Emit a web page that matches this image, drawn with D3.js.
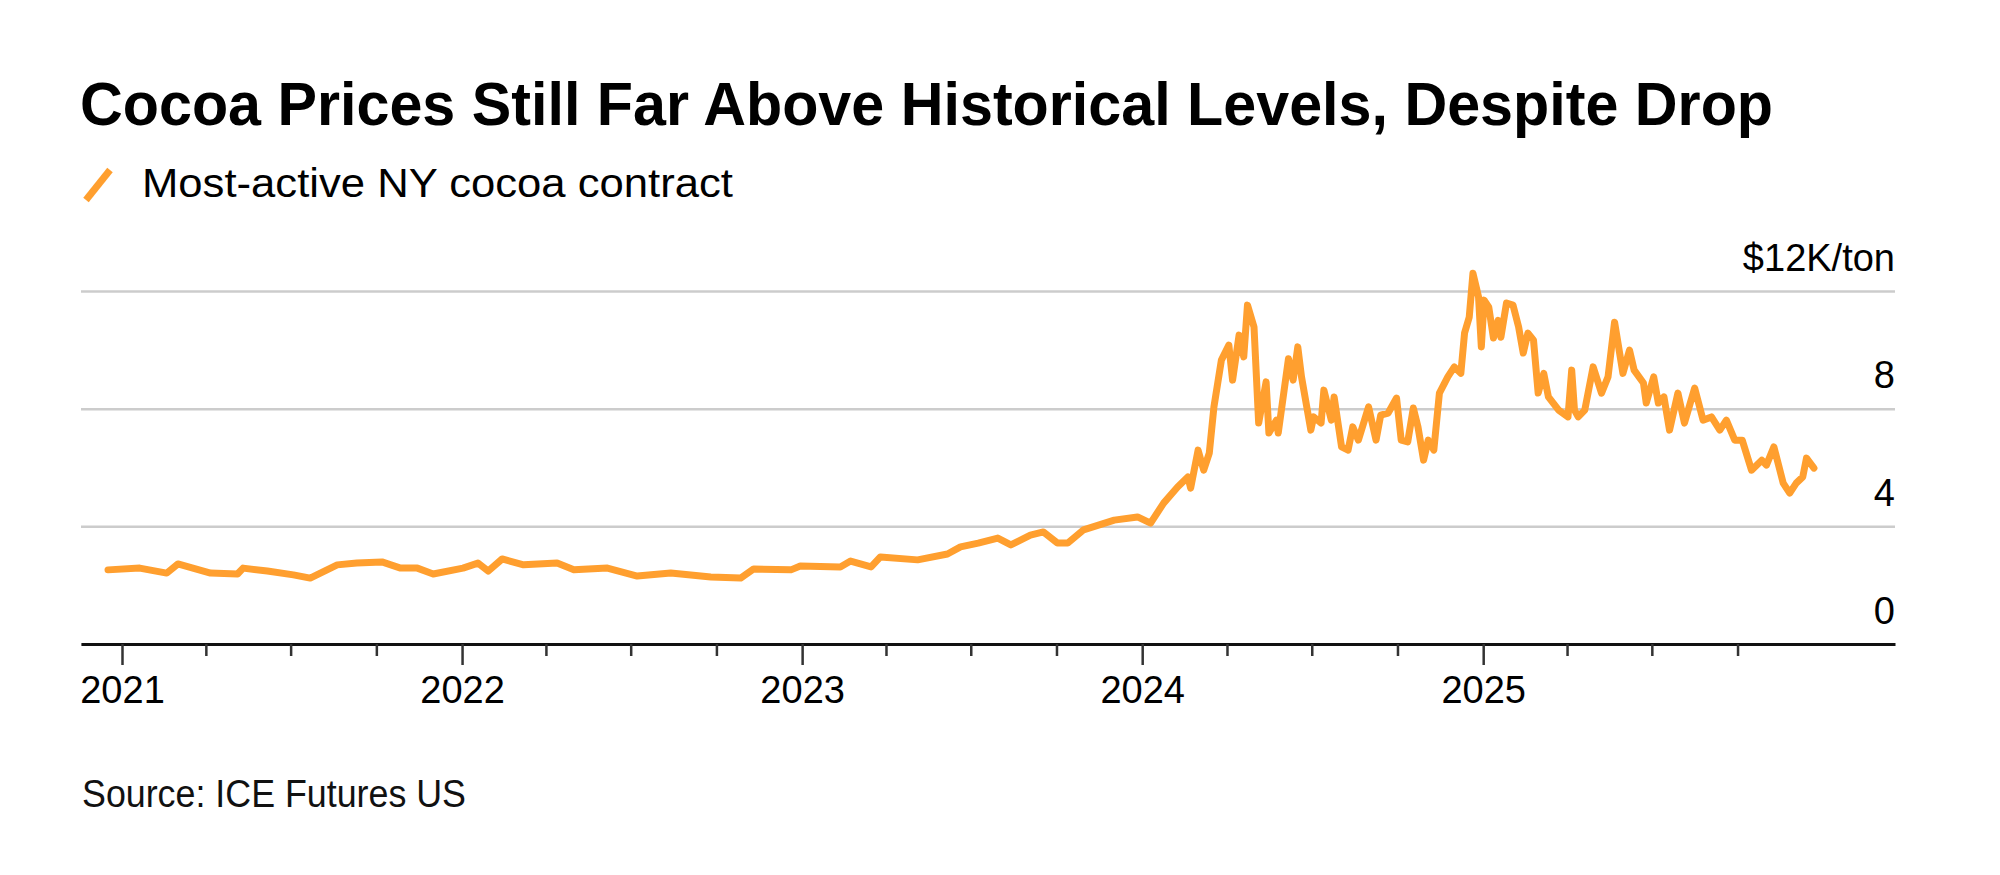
<!DOCTYPE html>
<html>
<head>
<meta charset="utf-8">
<script src="https://cdn.jsdelivr.net/npm/d3@7"></script>
<style>
  body { margin: 0; background: #fff; }
  svg { display: block; font-family: "Liberation Sans", Arial, Helvetica, sans-serif; }
</style>
</head>
<body>
<div id="chart"></div>
<script>
// Most-active NY cocoa contract, $K per ton
const dates = [
  "2020-12-17", "2021-01-20", "2021-02-18", "2021-03-02", "2021-04-06", "2021-05-05", "2021-05-11", "2021-06-06",
  "2021-07-04", "2021-07-22", "2021-08-20", "2021-09-10", "2021-10-07", "2021-10-27", "2021-11-14", "2021-12-01",
  "2022-01-02", "2022-01-18", "2022-01-29", "2022-02-13", "2022-03-08", "2022-04-13", "2022-05-01", "2022-06-06",
  "2022-07-08", "2022-08-13", "2022-09-25", "2022-10-27", "2022-11-10", "2022-12-20", "2022-12-30", "2023-02-11",
  "2023-02-22", "2023-03-16", "2023-03-26", "2023-05-05", "2023-06-06", "2023-06-20", "2023-07-09", "2023-07-30",
  "2023-08-13", "2023-09-03", "2023-09-17", "2023-10-02", "2023-10-13", "2023-10-30", "2023-12-02", "2023-12-27",
  "2024-01-10", "2024-01-24", "2024-02-08", "2024-02-19", "2024-02-22", "2024-03-01", "2024-03-07", "2024-03-13",
  "2024-03-18", "2024-03-26", "2024-04-03", "2024-04-07", "2024-04-14", "2024-04-19", "2024-04-23", "2024-04-30",
  "2024-05-05", "2024-05-13", "2024-05-16", "2024-05-24", "2024-05-26", "2024-06-06", "2024-06-11", "2024-06-16",
  "2024-06-20", "2024-06-30", "2024-07-03", "2024-07-11", "2024-07-14", "2024-07-22", "2024-07-25", "2024-08-02",
  "2024-08-09", "2024-08-14", "2024-08-20", "2024-08-31", "2024-09-08", "2024-09-13", "2024-09-21", "2024-09-30",
  "2024-10-05", "2024-10-12", "2024-10-18", "2024-10-23", "2024-10-29", "2024-11-03", "2024-11-09", "2024-11-15",
  "2024-11-24", "2024-12-01", "2024-12-08", "2024-12-12", "2024-12-17", "2024-12-21", "2024-12-27", "2024-12-30",
  "2025-01-02", "2025-01-07", "2025-01-12", "2025-01-17", "2025-01-20", "2025-01-26", "2025-02-02", "2025-02-08",
  "2025-02-13", "2025-02-18", "2025-02-24", "2025-03-01", "2025-03-07", "2025-03-12", "2025-03-23", "2025-04-02",
  "2025-04-06", "2025-04-09", "2025-04-13", "2025-04-20", "2025-04-29", "2025-05-08", "2025-05-15", "2025-05-22",
  "2025-05-31", "2025-06-07", "2025-06-12", "2025-06-22", "2025-06-25", "2025-07-03", "2025-07-08", "2025-07-14",
  "2025-07-20", "2025-07-29", "2025-08-05", "2025-08-16", "2025-08-25", "2025-09-03", "2025-09-12", "2025-09-19",
  "2025-09-28", "2025-10-06", "2025-10-16", "2025-10-27", "2025-11-01", "2025-11-09", "2025-11-19", "2025-11-26",
  "2025-12-03", "2025-12-10", "2025-12-14", "2025-12-22"
];
const prices = [
  2.52, 2.58, 2.41, 2.72, 2.41, 2.38, 2.58, 2.48,
  2.35, 2.24, 2.69, 2.75, 2.79, 2.58, 2.58, 2.38,
  2.58, 2.75, 2.48, 2.89, 2.69, 2.75, 2.52, 2.58,
  2.31, 2.41, 2.28, 2.24, 2.55, 2.52, 2.65, 2.62,
  2.82, 2.62, 2.96, 2.86, 3.06, 3.30, 3.43, 3.60,
  3.37, 3.70, 3.81, 3.43, 3.43, 3.88, 4.21, 4.32,
  4.11, 4.79, 5.34, 5.68, 5.30, 6.59, 5.91, 6.49,
  8.06, 9.65, 10.16, 8.97, 10.50, 9.76, 11.52, 10.78,
  7.51, 8.91, 7.17, 7.61, 7.17, 9.70, 8.97, 10.10,
  9.08, 7.27, 7.72, 7.51, 8.63, 7.61, 8.40, 6.70,
  6.59, 7.38, 6.93, 8.06, 6.93, 7.78, 7.85, 8.36,
  6.93, 6.87, 8.02, 7.38, 6.25, 6.93, 6.59, 8.53,
  9.08, 9.42, 9.20, 10.57, 11.11, 12.60, 11.80, 10.10,
  11.69, 11.45, 10.40, 11.00, 10.43, 11.59, 11.52, 10.78,
  9.89, 10.57, 10.33, 8.53, 9.20, 8.40, 7.95, 7.72,
  9.31, 7.95, 7.72, 7.95, 9.42, 8.53, 9.08, 10.94,
  9.20, 9.99, 9.31, 8.87, 8.19, 9.08, 8.19, 8.40,
  7.27, 8.53, 7.51, 8.70, 7.61, 7.72, 7.27, 7.61,
  6.93, 6.93, 5.91, 6.25, 6.08, 6.70, 5.47, 5.13,
  5.47, 5.68, 6.32, 5.98
];
const yTicks = [0, 4, 8, 12];
const yTickLabels = ["0", "4", "8", "$12K/ton"];
const xDomain = ["2020-11-18", "2026-03-19"];

const title = "Cocoa Prices Still Far Above Historical Levels, Despite Drop";
const legendLabel = "Most-active NY cocoa contract";
const sourceText = "Source: ICE Futures US";

const width = 2000;
const height = 875;
const orange = "#ff9f2f";

const parse = d3.utcParse("%Y-%m-%d");
const data = dates.map((d, i) => ({ date: parse(d), value: prices[i] }));
const lastDate = data[data.length - 1].date;

const svg = d3.select("#chart")
    .append("svg")
    .attr("width", width)
    .attr("height", height);

svg.append("rect").attr("width", width).attr("height", height).attr("fill", "#fff");

const x = d3.scaleUtc()
    .domain(xDomain.map(parse))
    .range([81, 1895]);

const y = d3.scaleLinear()
    .domain([0, 12])
    .range([644, 291]);

// Title and legend
svg.append("text")
    .attr("x", 80)
    .attr("y", 125)
    .attr("font-size", 62)
    .attr("font-weight", "bold")
    .attr("fill", "#000")
    .attr("textLength", 1693)
    .attr("lengthAdjust", "spacingAndGlyphs")
    .text(title);

svg.append("line")
    .attr("x1", 86).attr("y1", 200)
    .attr("x2", 110).attr("y2", 170)
    .attr("stroke", orange)
    .attr("stroke-width", 7);

svg.append("text")
    .attr("x", 142)
    .attr("y", 197)
    .attr("font-size", 40)
    .attr("fill", "#000")
    .attr("textLength", 591)
    .attr("lengthAdjust", "spacingAndGlyphs")
    .text(legendLabel);

// Gridlines + right-side labels
const yAxis = svg.append("g")
    .attr("transform", `translate(${x.range()[1]},0)`)
    .call(d3.axisRight(y)
        .tickValues(yTicks)
        .tickSize(-(x.range()[1] - x.range()[0]))
        .tickFormat((d, i) => yTickLabels[i]));

yAxis.select(".domain").remove();
yAxis.selectAll(".tick line")
    .attr("stroke", "#cccccc")
    .attr("stroke-width", 2.5);
yAxis.selectAll(".tick text")
    .attr("x", 0)
    .attr("dy", -21)
    .attr("text-anchor", "end")
    .attr("font-size", 38)
    .attr("font-family", "Liberation Sans, Arial, sans-serif")
    .attr("fill", "#000");

// Price line
const line = d3.line()
    .x(d => x(d.date))
    .y(d => y(d.value));

svg.append("path")
    .datum(data)
    .attr("fill", "none")
    .attr("stroke", orange)
    .attr("stroke-width", 7)
    .attr("stroke-linejoin", "round")
    .attr("stroke-linecap", "round")
    .attr("d", line);

// X axis: quarterly minor ticks, yearly major ticks with labels
const quarterTicks = x.ticks(d3.utcMonth.every(3)).filter(d => d <= lastDate);
const yearTicks = quarterTicks.filter(d => d.getUTCMonth() === 0);

const minorAxis = svg.append("g")
    .attr("transform", `translate(0,${y(0)})`)
    .call(d3.axisBottom(x)
        .tickValues(quarterTicks.filter(d => d.getUTCMonth() !== 0))
        .tickSize(12)
        .tickSizeOuter(0)
        .tickFormat(""));

minorAxis.select(".domain")
    .attr("stroke", "#111")
    .attr("stroke-width", 3);
minorAxis.selectAll(".tick line")
    .attr("stroke", "#333")
    .attr("stroke-width", 2.5);

const majorAxis = svg.append("g")
    .attr("transform", `translate(0,${y(0)})`)
    .call(d3.axisBottom(x)
        .tickValues(yearTicks)
        .tickSize(21)
        .tickPadding(11)
        .tickFormat(d3.utcFormat("%Y")));

majorAxis.select(".domain").remove();
majorAxis.selectAll(".tick line")
    .attr("stroke", "#333")
    .attr("stroke-width", 2.5);
majorAxis.selectAll(".tick text")
    .attr("font-size", 38)
    .attr("font-family", "Liberation Sans, Arial, sans-serif")
    .attr("fill", "#000");

// Source note
svg.append("text")
    .attr("x", 82)
    .attr("y", 807)
    .attr("font-size", 38)
    .attr("fill", "#111")
    .attr("textLength", 384)
    .attr("lengthAdjust", "spacingAndGlyphs")
    .text(sourceText);
</script>
</body>
</html>
